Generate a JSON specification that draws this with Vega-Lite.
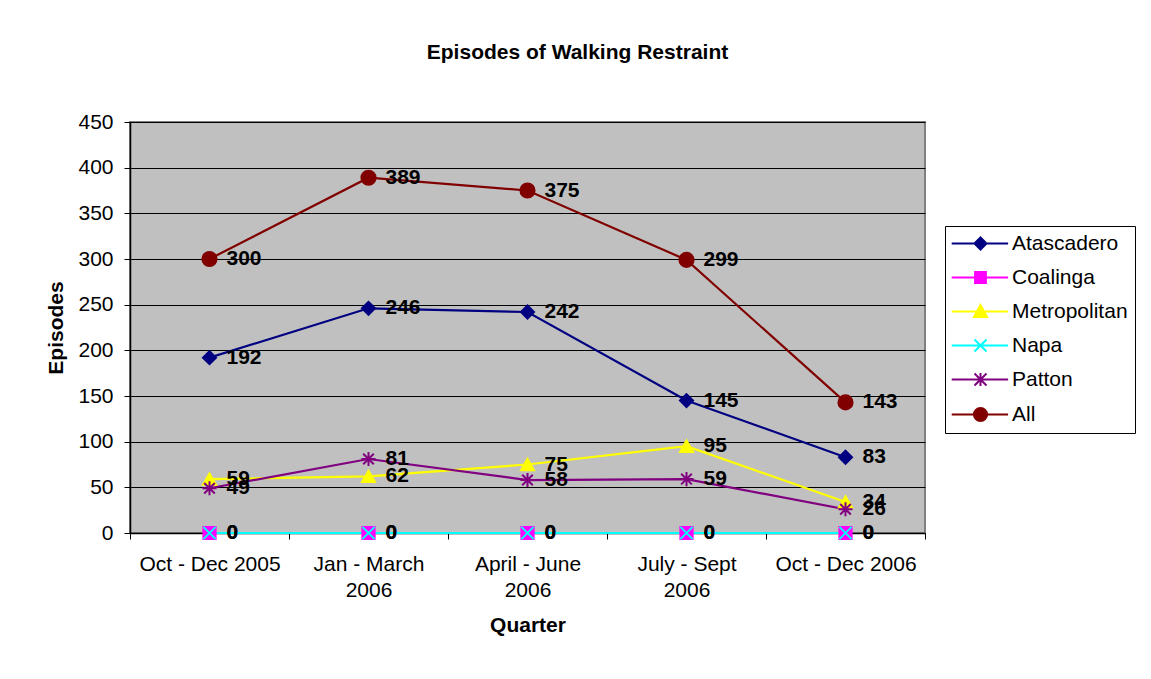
{
  "$schema": "https://vega.github.io/schema/vega-lite/v6.json",
  "autosize": {"type": "none"},
  "width": 795,
  "height": 411,
  "padding": {"left": 130, "top": 122, "right": 226, "bottom": 146},
  "background": "white",
  "title": {
    "text": "Episodes of Walking Restraint",
    "font": "Liberation Sans",
    "fontSize": 21,
    "fontWeight": "bold",
    "color": "black",
    "anchor": "middle",
    "frame": "group",
    "dx": 50,
    "baseline": "alphabetic",
    "offset": 31
  },
  "config": {
    "font": "Liberation Sans",
    "view": {"fill": "#C0C0C0", "stroke": "#808080", "strokeWidth": 2}
  },
  "data": {
    "values": [
      {"quarter": "Oct - Dec 2005", "series": "Atascadero", "value": 192},
      {"quarter": "Jan - March 2006", "series": "Atascadero", "value": 246},
      {"quarter": "April - June 2006", "series": "Atascadero", "value": 242},
      {"quarter": "July - Sept 2006", "series": "Atascadero", "value": 145},
      {"quarter": "Oct - Dec 2006", "series": "Atascadero", "value": 83},
      {"quarter": "Oct - Dec 2005", "series": "Coalinga", "value": 0},
      {"quarter": "Jan - March 2006", "series": "Coalinga", "value": 0},
      {"quarter": "April - June 2006", "series": "Coalinga", "value": 0},
      {"quarter": "July - Sept 2006", "series": "Coalinga", "value": 0},
      {"quarter": "Oct - Dec 2006", "series": "Coalinga", "value": 0},
      {"quarter": "Oct - Dec 2005", "series": "Metropolitan", "value": 59},
      {"quarter": "Jan - March 2006", "series": "Metropolitan", "value": 62},
      {"quarter": "April - June 2006", "series": "Metropolitan", "value": 75},
      {"quarter": "July - Sept 2006", "series": "Metropolitan", "value": 95},
      {"quarter": "Oct - Dec 2006", "series": "Metropolitan", "value": 34},
      {"quarter": "Oct - Dec 2005", "series": "Napa", "value": 0},
      {"quarter": "Jan - March 2006", "series": "Napa", "value": 0},
      {"quarter": "April - June 2006", "series": "Napa", "value": 0},
      {"quarter": "July - Sept 2006", "series": "Napa", "value": 0},
      {"quarter": "Oct - Dec 2006", "series": "Napa", "value": 0},
      {"quarter": "Oct - Dec 2005", "series": "Patton", "value": 49},
      {"quarter": "Jan - March 2006", "series": "Patton", "value": 81},
      {"quarter": "April - June 2006", "series": "Patton", "value": 58},
      {"quarter": "July - Sept 2006", "series": "Patton", "value": 59},
      {"quarter": "Oct - Dec 2006", "series": "Patton", "value": 26},
      {"quarter": "Oct - Dec 2005", "series": "All", "value": 300},
      {"quarter": "Jan - March 2006", "series": "All", "value": 389},
      {"quarter": "April - June 2006", "series": "All", "value": 375},
      {"quarter": "July - Sept 2006", "series": "All", "value": 299},
      {"quarter": "Oct - Dec 2006", "series": "All", "value": 143}
    ]
  },
  "encoding": {
    "x": {
      "field": "quarter",
      "type": "nominal",
      "sort": ["Oct - Dec 2005", "Jan - March 2006", "April - June 2006", "July - Sept 2006", "Oct - Dec 2006"],
      "scale": {"type": "band", "paddingInner": 0, "paddingOuter": 0},
      "axis": {
        "title": "Quarter",
        "titleFont": "Liberation Sans",
        "titleFontSize": 21,
        "titleFontWeight": "bold",
        "titleColor": "black",
        "titlePadding": 14,
        "labelFont": "Liberation Sans",
        "labelFontSize": 21,
        "labelColor": "black",
        "labelAngle": 0,
        "labelPadding": 14,
        "labelLineHeight": 26,
        "labelLimit": 300,
        "labelExpr": "indexof(datum.label, 'Oct') == 0 ? datum.label : [slice(datum.label, 0, lastindexof(datum.label, ' ')), slice(datum.label, lastindexof(datum.label, ' ') + 1)]",
        "tickBand": "extent",
        "tickSize": 6,
        "tickColor": "black",
        "domainColor": "black",
        "domainWidth": 1.5,
        "grid": false
      }
    },
    "y": {
      "field": "value",
      "type": "quantitative",
      "scale": {"domain": [0, 450], "nice": false},
      "axis": {
        "title": "Episodes",
        "titleFont": "Liberation Sans",
        "titleFontSize": 21,
        "titleFontWeight": "bold",
        "titleColor": "black",
        "titlePadding": 11,
        "labelFont": "Liberation Sans",
        "labelFontSize": 21,
        "labelColor": "black",
        "labelPadding": 11,
        "values": [0, 50, 100, 150, 200, 250, 300, 350, 400, 450],
        "tickSize": 6,
        "tickColor": "black",
        "domainColor": "black",
        "domainWidth": 1.5,
        "grid": true,
        "gridColor": "black",
        "gridOpacity": 1,
        "gridWidth": 1
      }
    },
    "color": {
      "field": "series",
      "type": "nominal",
      "scale": {
        "domain": ["Atascadero", "Coalinga", "Metropolitan", "Napa", "Patton", "All"],
        "range": ["#000080", "#FF00FF", "#FFFF00", "#00FFFF", "#800080", "#800000"]
      },
      "legend": {
        "title": null,
        "orient": "none",
        "legendX": 815,
        "legendY": 104,
        "padding": 7,
        "strokeColor": "black",
        "fillColor": "white",
        "labelFont": "Liberation Sans",
        "labelFontSize": 21,
        "labelColor": "black",
        "labelLimit": 300,
        "symbolSize": 144,
        "symbolStrokeWidth": 2,
        "symbolOffset": 18,
        "labelOffset": 21,
        "rowPadding": 12,
        "encode": {
          "symbols": {
            "update": {
              "fill": {"scale": "color", "field": "value"},
              "stroke": {"scale": "color", "field": "value"},
              "strokeWidth": {"value": 2},
              "opacity": {"value": 1},
              "shape": {"signal": "datum.value === 'Atascadero' ? 'M-4.8,0L4.6,0M-1,0L0,-1L1,0L0,1Z' : datum.value === 'Coalinga' ? 'M-4.8,0L4.6,0M-0.9,-0.9L0.9,-0.9L0.9,0.9L-0.9,0.9Z' : datum.value === 'Metropolitan' ? 'M-4.8,0L4.6,0M0,-1.1L1.1,0.9L-1.1,0.9Z' : datum.value === 'Napa' ? 'M-4.8,0L4.6,0M-1,-1L1,1M-1,1L1,-1' : datum.value === 'Patton' ? 'M-4.8,0L4.6,0M0,-1.1L0,1.1M-1,-1L1,1M-1,1L1,-1' : 'M-4.8,0L4.6,0M1.1,0A1.1,1.1,0,1,1,-1.1,0A1.1,1.1,0,1,1,1.1,0Z'"}
            }
          }
        }
      }
    }
  },
  "layer": [
    {
      "mark": {"type": "line", "strokeWidth": 2.2}
    },
    {
      "transform": [{"filter": "datum.series === 'Atascadero'"}],
      "mark": {"type": "point", "filled": true, "shape": "diamond", "size": 170, "strokeWidth": 2, "opacity": 1},
      "encoding": {"stroke": {"value": "#000080"}}
    },
    {
      "transform": [{"filter": "datum.series === 'Coalinga'"}],
      "mark": {"type": "point", "filled": true, "shape": "square", "size": 150, "strokeWidth": 2, "opacity": 1},
      "encoding": {"stroke": {"value": "#FF00FF"}}
    },
    {
      "transform": [{"filter": "datum.series === 'Metropolitan'"}],
      "mark": {"type": "point", "filled": true, "shape": "triangle-up", "size": 170, "strokeWidth": 2, "opacity": 1},
      "encoding": {"stroke": {"value": "#FFFF00"}}
    },
    {
      "transform": [{"filter": "datum.series === 'Napa'"}],
      "mark": {"type": "point", "filled": false, "shape": "M-1,-1L1,1M-1,1L1,-1", "size": 150, "strokeWidth": 2, "opacity": 1}
    },
    {
      "transform": [{"filter": "datum.series === 'Patton'"}],
      "mark": {"type": "point", "filled": false, "shape": "M-1,0L1,0M0,-1L0,1M-0.75,-0.75L0.75,0.75M-0.75,0.75L0.75,-0.75", "size": 200, "strokeWidth": 2, "opacity": 1}
    },
    {
      "transform": [{"filter": "datum.series === 'All'"}],
      "mark": {"type": "point", "filled": true, "shape": "circle", "size": 200, "strokeWidth": 2, "opacity": 1},
      "encoding": {"stroke": {"value": "#800000"}}
    },
    {
      "mark": {
        "type": "text",
        "align": "left",
        "baseline": "middle",
        "dx": 17,
        "font": "Liberation Sans",
        "fontSize": 21,
        "fontWeight": "bold",
        "color": "black"
      },
      "encoding": {
        "text": {"field": "value", "type": "quantitative"},
        "color": {"value": "black"}
      }
    }
  ]
}
